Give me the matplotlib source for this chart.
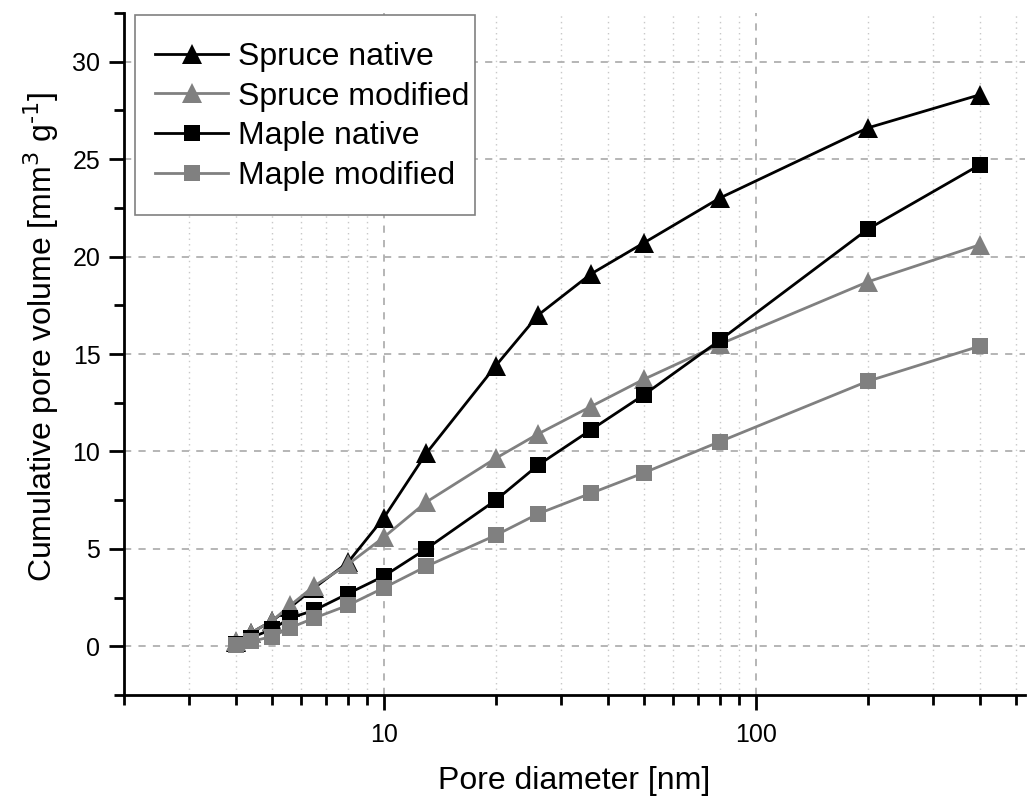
import matplotlib
matplotlib.use('Agg')
import matplotlib.pyplot as plt
import matplotlib.patches as mpatches
from matplotlib.ticker import FixedLocator, FixedFormatter, NullFormatter, MultipleLocator

# pore diameter [nm]
diameter = [4, 4.4, 5, 5.6, 6.5, 8, 10, 13, 20, 26, 36, 50, 80, 200, 400]

# cumulative pore volume [mm3 g-1]
spruce_native = [0.2, 0.7, 1.3, 2.0, 3.0, 4.3, 6.6, 9.9, 14.4, 17.0, 19.1, 20.7, 23.0, 26.6, 28.3]
spruce_modified = [0.25, 0.7, 1.3, 2.1, 3.1, 4.2, 5.6, 7.4, 9.65, 10.9, 12.3, 13.7, 15.5, 18.7, 20.6]
maple_native = [0.1, 0.45, 0.87, 1.45, 1.85, 2.7, 3.6, 5.0, 7.5, 9.3, 11.1, 12.9, 15.7, 21.4, 24.7]
maple_modified = [0.05, 0.25, 0.5, 0.95, 1.45, 2.1, 3.0, 4.1, 5.7, 6.8, 7.85, 8.9, 10.5, 13.6, 15.4]

series = [
    ('Spruce native', spruce_native, 'black', '^'),
    ('Spruce modified', spruce_modified, '#808080', '^'),
    ('Maple native', maple_native, 'black', 's'),
    ('Maple modified', maple_modified, '#808080', 's'),
]

plt.rcParams['font.family'] = ['Liberation Sans', 'DejaVu Sans']

W, H = 1030, 797
fig = plt.figure(figsize=(W / 100, H / 100), dpi=100, facecolor='white')
ax = fig.add_axes([124 / W, 1 - 695 / H, 901 / W, 682 / H])

for name, vals, col, mk in series:
    ax.plot(diameter, vals, color=col, lw=2, marker=mk,
            markersize=14 if mk == '^' else 11, markeredgewidth=0,
            label=name, zorder=3)

ax.set_xscale('log')
ax.set_xlim(2, 530)
ax.set_ylim(-2.5, 32.5)

# ticks
ax.xaxis.set_major_locator(FixedLocator([10, 100]))
ax.xaxis.set_major_formatter(FixedFormatter(['10', '100']))
minor_x = [2, 3, 4, 5, 6, 7, 8, 9, 20, 30, 40, 50, 60, 70, 80, 90, 200, 300, 400, 500]
ax.xaxis.set_minor_locator(FixedLocator(minor_x))
ax.xaxis.set_minor_formatter(NullFormatter())
ax.yaxis.set_major_locator(FixedLocator([0, 5, 10, 15, 20, 25, 30]))
ax.yaxis.set_minor_locator(MultipleLocator(2.5))

ax.tick_params(which='major', direction='out', length=11, width=2, labelsize=18, pad=6)
ax.tick_params(which='minor', direction='out', length=7, width=2)
ax.tick_params(axis='x', pad=9)
for t in ax.get_xticklabels():
    t.set_family(['Liberation Sans Narrow', 'Liberation Sans'])

# 边框
for s in ['top', 'right']:
    ax.spines[s].set_visible(False)
for s in ['left', 'bottom']:
    ax.spines[s].set_linewidth(2)

# grid
ax.grid(True, which='major', color='#b0b0b0', linestyle=(0, (4, 4)), linewidth=1.3, zorder=0)
ax.xaxis.grid(True, which='minor', color='#c8c8c8', linestyle=(0, (1, 3)), linewidth=1.0, zorder=0)
ax.set_axisbelow(True)

ax.set_xlabel('Pore diameter [nm]', fontsize=23, labelpad=14)
ax.set_ylabel('Cumulative pore volume [mm$^{3}$ g$^{\\text{-}1}$]', fontsize=23)
ax.yaxis.set_label_coords((61 - 124) / 901, (695 - 337) / 682)

# legend box drawn by hand (tight on the right like the original)
box = mpatches.Rectangle((135 / W, 1 - 215 / H), 340 / W, 200 / H,
                         transform=fig.transFigure, facecolor='white',
                         edgecolor='#808080', linewidth=1.2, zorder=4)
fig.add_artist(box)

handles, labels = ax.get_legend_handles_labels()
leg = fig.legend(handles, labels, loc='upper left',
                 bbox_to_anchor=(155 / W, 1 - 42 / H), borderaxespad=0,
                 fontsize=23, frameon=False, borderpad=0,
                 handlelength=2.3, handletextpad=0.3, labelspacing=0.3)
leg.set_zorder(5)

fig.savefig('out.png', dpi=100, facecolor='white')
